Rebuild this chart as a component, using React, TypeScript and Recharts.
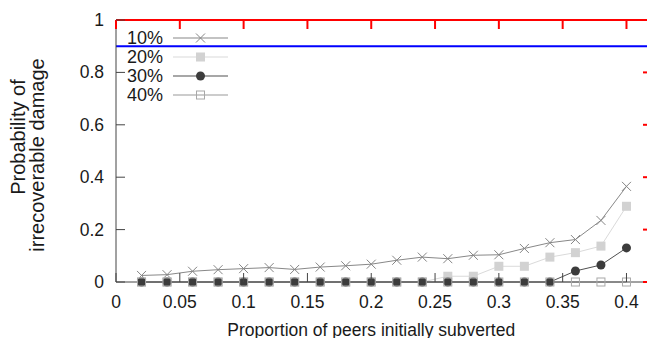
// DamageChart.tsx
import React from 'react';
import { LineChart, Line, XAxis, YAxis, Legend, ReferenceLine } from 'recharts';

const FONT = '"Liberation Sans", Arial, Helvetica, sans-serif';
const TEXT = '#1a1a1a';
const AXIS = '#444444';

// proportion of peers initially subverted
const proportions = [
  0.02, 0.04, 0.06, 0.08, 0.1, 0.12, 0.14, 0.16, 0.18, 0.2,
  0.22, 0.24, 0.26, 0.28, 0.3, 0.32, 0.34, 0.36, 0.38, 0.4,
];
const damage10 = [
  0.025, 0.028, 0.041, 0.047, 0.051, 0.055, 0.048, 0.057, 0.062, 0.068,
  0.083, 0.095, 0.089, 0.102, 0.104, 0.128, 0.15, 0.162, 0.235, 0.365,
];
const damage20 = [
  0, 0, 0, 0, 0, 0, 0, 0, 0, 0,
  0, 0, 0.022, 0.022, 0.06, 0.06, 0.095, 0.112, 0.137, 0.289,
];
const damage30 = [
  0, 0, 0, 0, 0, 0, 0, 0, 0, 0,
  0, 0, 0, 0, 0, 0, 0, 0.042, 0.065, 0.13,
];
const damage40 = [
  0, 0, 0, 0, 0, 0, 0, 0, 0, 0,
  0, 0, 0, 0, 0, 0, 0, 0, 0, 0,
];

const xTicks = [0, 0.05, 0.1, 0.15, 0.2, 0.25, 0.3, 0.35, 0.4];
const yTicks = [0, 0.2, 0.4, 0.6, 0.8, 1];
const X_MAX = 0.42;

const data = proportions.map((x, i) => ({
  x,
  p10: damage10[i],
  p20: damage20[i],
  p30: damage30[i],
  p40: damage40[i],
}));

const drawCross = (cx: number, cy: number, key?: string) => (
  <g key={key}>
    <line x1={cx - 4.5} y1={cy - 4.5} x2={cx + 4.5} y2={cy + 4.5} stroke="#858585" strokeWidth={1} />
    <line x1={cx - 4.5} y1={cy + 4.5} x2={cx + 4.5} y2={cy - 4.5} stroke="#858585" strokeWidth={1} />
  </g>
);
const drawSquare = (cx: number, cy: number, key?: string) => (
  <rect key={key} x={cx - 4.5} y={cy - 4.5} width={9} height={9} fill="#d2d2d2" />
);
const drawCircle = (cx: number, cy: number, key?: string) => (
  <circle key={key} cx={cx} cy={cy} r={4.5} fill="#3c3c3c" />
);
const drawOpenSquare = (cx: number, cy: number, key?: string) => (
  <rect key={key} x={cx - 4} y={cy - 4} width={8} height={8} fill="none" stroke="#a8a8a8" strokeWidth={1} />
);

const markers: Record<string, (cx: number, cy: number, key?: string) => any> = {
  p10: drawCross,
  p20: drawSquare,
  p30: drawCircle,
  p40: drawOpenSquare,
};

const BottomTick = (props: any) => {
  const { x, y, payload } = props;
  return (
    <g>
      <line x1={x} x2={x} y1={y} y2={y - 9} stroke={AXIS} />
      <text x={x} y={y + 25.5} textAnchor="middle" fontSize={17.5} fontFamily={FONT} fill={TEXT}>
        {String(payload.value)}
      </text>
    </g>
  );
};
const TopTick = (props: any) => (
  <line x1={props.x} x2={props.x} y1={props.y} y2={props.y + 9} stroke="red" strokeWidth={2} />
);
const LeftTick = (props: any) => {
  const { x, y, payload } = props;
  return (
    <g>
      <line x1={x} x2={x + 9} y1={y} y2={y} stroke={AXIS} />
      <text x={x - 12} y={y + 6} textAnchor="end" fontSize={17.5} fontFamily={FONT} fill={TEXT}>
        {String(payload.value)}
      </text>
    </g>
  );
};
const RightTick = (props: any) => (
  <line x1={props.x} x2={props.x - 9} y1={props.y} y2={props.y} stroke="red" strokeWidth={2} />
);

const XTitle = (props: any) => {
  const vb = props.viewBox;
  const cx = vb.x + (vb.width * 0.2) / X_MAX;
  return (
    <text x={cx} y={335.5} textAnchor="middle" fontSize={17.5} fontFamily={FONT} fill={TEXT}>
      Proportion of peers initially subverted
    </text>
  );
};

const YTitle = () => (
  <g fontSize={20} fontFamily={FONT} fill={TEXT} textAnchor="middle">
    <text x={25} y={137} transform="rotate(-90, 25, 137)">Probability of</text>
    <text x={44} y={155} transform="rotate(-90, 44, 155)">irrecoverable damage</text>
  </g>
);

const LegendBox = (props: any) => {
  const payload = props.payload || [];
  return (
    <svg width={120} height={80} style={{ display: 'block' }}>
      {payload.map((entry: any, i: number) => {
        const cy = 10 + i * 19;
        const mark = markers[entry.dataKey] || drawCross;
        return (
          <g key={entry.value}>
            <text x={43} y={cy + 6} textAnchor="end" fontSize={18} fontFamily={FONT} fill={TEXT}>
              {entry.value}
            </text>
            <line x1={53} x2={108} y1={cy} y2={cy} stroke={entry.color} strokeWidth={1.2} />
            {mark(80.5, cy)}
          </g>
        );
      })}
    </svg>
  );
};

const App: React.FC = () => {
  return (
    <div style={{ position: 'absolute', left: 0, top: 0, width: 647, height: 338, overflow: 'hidden', background: '#fff' }}>
      <LineChart width={680} height={338} data={data} margin={{ top: 19, right: 0, bottom: 0, left: 0 }}>
        <XAxis xAxisId="bottom" type="number" dataKey="x" domain={[0, X_MAX]} ticks={xTicks} height={56} stroke={AXIS}
          tickLine={false} tickSize={0} tickMargin={0} tick={BottomTick} label={{ content: XTitle }} />
        <XAxis xAxisId="top" orientation="top" type="number" dataKey="x" domain={[0, X_MAX]} ticks={xTicks} height={1} stroke="red"
          strokeWidth={2} tickLine={false} tickSize={0} tickMargin={0} tick={TopTick} />
        <YAxis yAxisId="left" type="number" domain={[0, 1]} ticks={yTicks} width={116} stroke={AXIS}
          tickLine={false} tickSize={0} tickMargin={0} tick={LeftTick} label={{ content: YTitle }} />
        <YAxis yAxisId="right" orientation="right" type="number" domain={[0, 1]} ticks={yTicks} width={28} stroke="red"
          strokeWidth={2} tickLine={false} tickSize={0} tickMargin={0} tick={RightTick} />
        <ReferenceLine xAxisId="bottom" yAxisId="left" y={0.9} stroke="blue" strokeWidth={2} />
        <ReferenceLine xAxisId="bottom" yAxisId="left" y={1} stroke="green" strokeWidth={2} />
        <Legend layout="horizontal" align="center" verticalAlign="middle" content={LegendBox}
          wrapperStyle={{ position: 'absolute', top: 28, left: 120, width: 120, height: 80 }} />
        <Line xAxisId="bottom" yAxisId="left" dataKey="p10" name="10%" stroke="#888888" strokeWidth={1}
          isAnimationActive={false} dot={(p: any) => drawCross(p.cx, p.cy, `p10-${p.index}`)} />
        <Line xAxisId="bottom" yAxisId="left" dataKey="p20" name="20%" stroke="#dadada" strokeWidth={1}
          isAnimationActive={false} dot={(p: any) => drawSquare(p.cx, p.cy, `p20-${p.index}`)} />
        <Line xAxisId="bottom" yAxisId="left" dataKey="p30" name="30%" stroke="#505050" strokeWidth={1}
          isAnimationActive={false} dot={(p: any) => drawCircle(p.cx, p.cy, `p30-${p.index}`)} />
        <Line xAxisId="top" yAxisId="right" dataKey="p40" name="40%" stroke="#9a9a9a" strokeWidth={1}
          isAnimationActive={false} dot={(p: any) => drawOpenSquare(p.cx, p.cy, `p40-${p.index}`)} />
      </LineChart>
    </div>
  );
};

export default App;
